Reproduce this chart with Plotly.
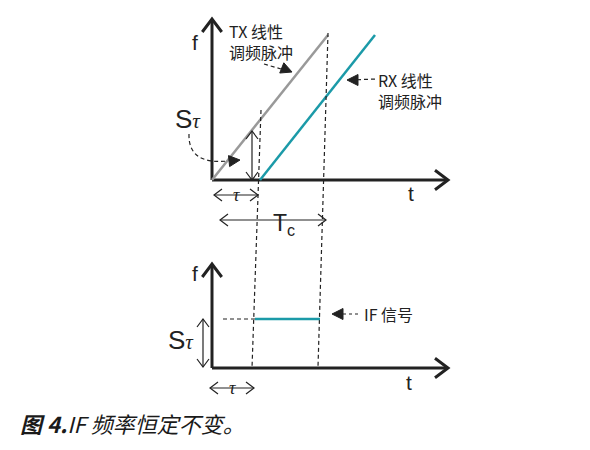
import math
import plotly.graph_objects as go

# diagram coordinates (pixel-like units, y grows downward)
top_origin = (212, 180)
bottom_origin = (212, 368)
axis_len_x = 235
top_axis_len_y = 160
bottom_axis_len_y = 103

# chirps in the top panel: time offset, frequency rise (relative to origin)
tx_t = [0, 116]
tx_f = [0, 145]
rx_t = [48, 163]
rx_f = [0, 145]

# IF signal in the bottom panel
if_t = [43, 108]
if_f = [49, 49]

# dashed guide lines (x top, y top, x bottom, y bottom)
guide_left = [261, 110, 252, 368]
guide_right = [328, 33, 318, 367]

TEAL = "#1b9aa8"
GRAY = "#999999"
BLACK = "#222222"
LATIN = "Liberation Sans, Arial, sans-serif"
CJK = "Noto Sans CJK SC, sans-serif"
TAU = '<span style="font-family:Liberation Serif, serif;font-style:italic;font-size:21px">τ</span>'
TAU_S = '<span style="font-family:Liberation Serif, serif;font-style:italic">τ</span>'

fig = go.Figure()


def line(xs, ys, color=BLACK, width=1.2, dash=None):
    fig.add_trace(go.Scatter(x=xs, y=ys, mode="lines", hoverinfo="skip",
                             line=dict(color=color, width=width, dash=dash)))


def open_head(x, y, dx, dy, size=10, width=1.2):
    # open "V" arrowhead pointing in direction (dx, dy)
    n = math.hypot(dx, dy)
    ux, uy = dx / n, dy / n
    px, py = -uy, ux
    a = (x - ux * size + px * size * 0.75, y - uy * size + py * size * 0.75)
    b = (x - ux * size - px * size * 0.75, y - uy * size - py * size * 0.75)
    line([a[0], x, b[0]], [a[1], y, b[1]], width=width)


def double_arrow(x0, y0, x1, y1, size=8):
    line([x0, x1], [y0, y1])
    open_head(x1, y1, x1 - x0, y1 - y0, size)
    open_head(x0, y0, x0 - x1, y0 - y1, size)


def filled_head(x, y, dx, dy, size=11):
    n = math.hypot(dx, dy)
    ux, uy = dx / n, dy / n
    px, py = -uy, ux
    xs = [x, x - ux * size + px * size * 0.5, x - ux * size - px * size * 0.5, x]
    ys = [y, y - uy * size + py * size * 0.5, y - uy * size - py * size * 0.5, y]
    fig.add_trace(go.Scatter(x=xs, y=ys, mode="lines", fill="toself",
                             fillcolor=BLACK, line=dict(color=BLACK, width=1),
                             hoverinfo="skip"))


def text(x, y, s, size=15, font=CJK, anchor="left", color=BLACK):
    fig.add_annotation(x=x, y=y, text=s, showarrow=False, xanchor=anchor,
                       yanchor="middle", align="left",
                       font=dict(family=font, size=size, color=color))


# axes of both panels
for (ox, oy), ly in [(top_origin, top_axis_len_y), (bottom_origin, bottom_axis_len_y)]:
    line([ox, ox], [oy, oy - ly], width=3)
    line([ox, ox + axis_len_x], [oy, oy], width=3)
    open_head(ox, oy - ly - 1, 0, -1, size=13, width=3)
    open_head(ox + axis_len_x + 1, oy, 1, 0, size=13, width=3)

ox, oy = top_origin
# TX and RX chirps
line([ox + t for t in tx_t], [oy - f for f in tx_f], color=GRAY, width=2.5)
line([ox + t for t in rx_t], [oy - f for f in rx_f], color=TEAL, width=2.5)

# dashed guides
line(guide_left[::2], guide_left[1::2], dash="4px,3px")
line(guide_right[::2], guide_right[1::2], dash="4px,3px")

# S-tau arrow, tau and Tc arrows (top)
double_arrow(252, 180, 252, 131)
double_arrow(214, 195, 258, 195)
double_arrow(220, 220, 326, 220)

# curved pointer from S-tau label
fig.add_shape(type="path", path="M 189,134 Q 188,165 228,161",
              line=dict(color=BLACK, width=1.2, dash="4px,3px"))
filled_head(240, 160, 1, -0.1)

# TX / RX labels with pointers
line([264, 281], [64, 69], dash="4px,3px")
filled_head(292, 72, 1, 0.4)
line([350, 376], [80, 79], dash="4px,3px")
filled_head(347, 80, -1, 0)

text(227, 41, "TX 线性<br>调频脉冲", 16)
text(376, 90, "RX 线性<br>调频脉冲", 16)

text(188, 119, "S" + TAU, 26, LATIN, "center")
text(236, 195, TAU_S, 18, "Liberation Serif, serif", "center")
text(284, 224, "T<sub>c</sub>", 23, LATIN, "center")
text(195, 42, "f", 21, LATIN, "center")
text(411, 193, "t", 21, LATIN, "center")

# bottom panel
bx, by = bottom_origin
line([223, bx + if_t[0]], [by - if_f[0]] * 2, dash="4px,3px")
line([bx + t for t in if_t], [by - f for f in if_f], color=TEAL, width=2.5)
double_arrow(203, by - 1, 203, by - if_f[0])
double_arrow(210, 388, 254, 388)
line([337, 361], [314, 314], dash="3px,3px")
filled_head(332, 314, -1, 0)
text(362, 314, "IF 信号", 16)
text(181, 340, "S" + TAU, 26, LATIN, "center")
text(232, 388, TAU_S, 18, "Liberation Serif, serif", "center")
text(195, 273, "f", 21, LATIN, "center")
text(409, 382, "t", 21, LATIN, "center")

# caption
text(18, 423, "<b><i>图 4.</i></b><i>IF 频率恒定不变。</i>", 22, CJK, "left", "#1a1a1a")

# page body has an 8px margin, so shift the ranges to compensate
fig.update_layout(
    width=590, height=450, margin=dict(l=0, r=0, t=0, b=0),
    paper_bgcolor="white", plot_bgcolor="white", showlegend=False,
    xaxis=dict(range=[8, 598], visible=False, fixedrange=True),
    yaxis=dict(range=[458, 8], visible=False, fixedrange=True),
)
fig.write_html("out.html")
